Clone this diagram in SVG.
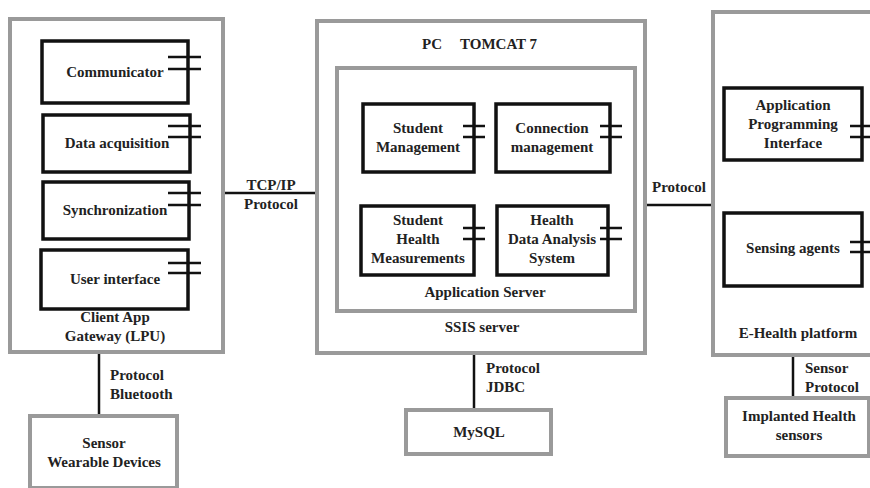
<svg xmlns="http://www.w3.org/2000/svg" width="870" height="488" viewBox="0 0 870 488" font-family="'Liberation Serif', 'DejaVu Serif', serif">
<style>
.outer{fill:#fff;stroke:#9a9a9a;stroke-width:4}
.comp{fill:#fff;stroke:#111;stroke-width:3.5}
.bar{stroke:#111;stroke-width:2.5;fill:none}
.conn{stroke:#111;stroke-width:2.5;fill:none}
text{font-family:'Liberation Serif','DejaVu Serif',serif;font-weight:bold;font-size:15px;fill:#222}
.c{text-anchor:middle}
</style>
<rect width="870" height="488" fill="#fff"/>
<g id="connectors">
<line class="conn" x1="223" y1="193" x2="317" y2="193"/>
<line class="conn" x1="645" y1="205" x2="713" y2="205"/>
<line class="conn" x1="99" y1="352" x2="99" y2="416"/>
<line class="conn" x1="474" y1="353" x2="474" y2="410"/>
<line class="conn" x1="793" y1="355" x2="793" y2="398"/>
<text class="c" x="271" y="190">TCP/IP</text>
<text class="c" x="271" y="209">Protocol</text>
<text x="652" y="192">Protocol</text>
<text x="110" y="380">Protocol</text>
<text x="110" y="399">Bluetooth</text>
<text x="486" y="373">Protocol</text>
<text x="486" y="392">JDBC</text>
<text x="805" y="373">Sensor</text>
<text x="805" y="392">Protocol</text>
</g>
<g id="client-app">
<rect class="outer" x="10" y="19" width="213" height="333"/>
<text class="c" x="115" y="322">Client App</text>
<text class="c" x="115" y="341">Gateway (LPU)</text>
</g>
<g id="communicator">
<rect class="comp" x="42" y="41" width="146" height="62"/>
<path class="bar" d="M168 57H201M168 69H201"/>
<text class="c" x="115" y="77">Communicator</text>
</g>
<g id="data-acquisition">
<rect class="comp" x="43" y="115" width="147" height="57"/>
<path class="bar" d="M168 126H201M168 137H201"/>
<text class="c" x="117" y="148">Data acquisition</text>
</g>
<g id="synchronization">
<rect class="comp" x="43" y="182" width="146" height="57"/>
<path class="bar" d="M168 193H201M168 205H201"/>
<text class="c" x="115" y="215">Synchronization</text>
</g>
<g id="user-interface">
<rect class="comp" x="41" y="250" width="147" height="59"/>
<path class="bar" d="M168 263H201M168 273H201"/>
<text class="c" x="115" y="284">User interface</text>
</g>
<g id="sensor-wearable">
<rect class="outer" x="30" y="416" width="147" height="72"/>
<text class="c" x="104" y="448">Sensor</text>
<text class="c" x="104" y="467">Wearable Devices</text>
</g>
<g id="pc-tomcat">
<rect class="outer" x="317" y="21" width="328" height="332"/>
<text x="422" y="49">PC</text>
<text x="460" y="49">TOMCAT 7</text>
<text class="c" x="482" y="332">SSIS server</text>
</g>
<g id="application-server">
<rect class="outer" x="337" y="68" width="298" height="243" stroke-width="3.5"/>
<text class="c" x="485" y="297">Application Server</text>
</g>
<g id="student-management">
<rect class="comp" x="363" y="104" width="111" height="68"/>
<path class="bar" d="M463 126H485M463 137H485"/>
<text class="c" x="418" y="133">Student</text>
<text class="c" x="418" y="152">Management</text>
</g>
<g id="connection-management">
<rect class="comp" x="496" y="104" width="114" height="68"/>
<path class="bar" d="M600 126H622M600 137H622"/>
<text class="c" x="552" y="133">Connection</text>
<text class="c" x="552" y="152">management</text>
</g>
<g id="student-health">
<rect class="comp" x="361" y="206" width="113" height="69"/>
<path class="bar" d="M463 228H485M463 239H485"/>
<text class="c" x="418" y="225">Student</text>
<text class="c" x="418" y="244">Health</text>
<text class="c" x="418" y="263">Measurements</text>
</g>
<g id="health-data-analysis">
<rect class="comp" x="497" y="206" width="111" height="69"/>
<path class="bar" d="M600 228H622M600 239H622"/>
<text class="c" x="552" y="225">Health</text>
<text class="c" x="552" y="244">Data Analysis</text>
<text class="c" x="552" y="263">System</text>
</g>
<g id="mysql">
<rect class="outer" x="406" y="410" width="145" height="44"/>
<text class="c" x="479" y="437">MySQL</text>
</g>
<g id="e-health-platform">
<rect class="outer" x="713" y="12" width="170" height="343"/>
<text class="c" x="798" y="338">E-Health platform</text>
</g>
<g id="api">
<rect class="comp" x="724" y="88" width="138" height="72"/>
<path class="bar" d="M850 126H872M850 137H872"/>
<text class="c" x="793" y="110">Application</text>
<text class="c" x="793" y="129">Programming</text>
<text class="c" x="793" y="148">Interface</text>
</g>
<g id="sensing-agents">
<rect class="comp" x="724" y="213" width="138" height="73"/>
<path class="bar" d="M850 242H872M850 252H872"/>
<text class="c" x="793" y="253">Sensing agents</text>
</g>
<g id="implanted-sensors">
<rect class="outer" x="726" y="398" width="143" height="58"/>
<text class="c" x="799" y="421">Implanted Health</text>
<text class="c" x="799" y="440">sensors</text>
</g>
</svg>
